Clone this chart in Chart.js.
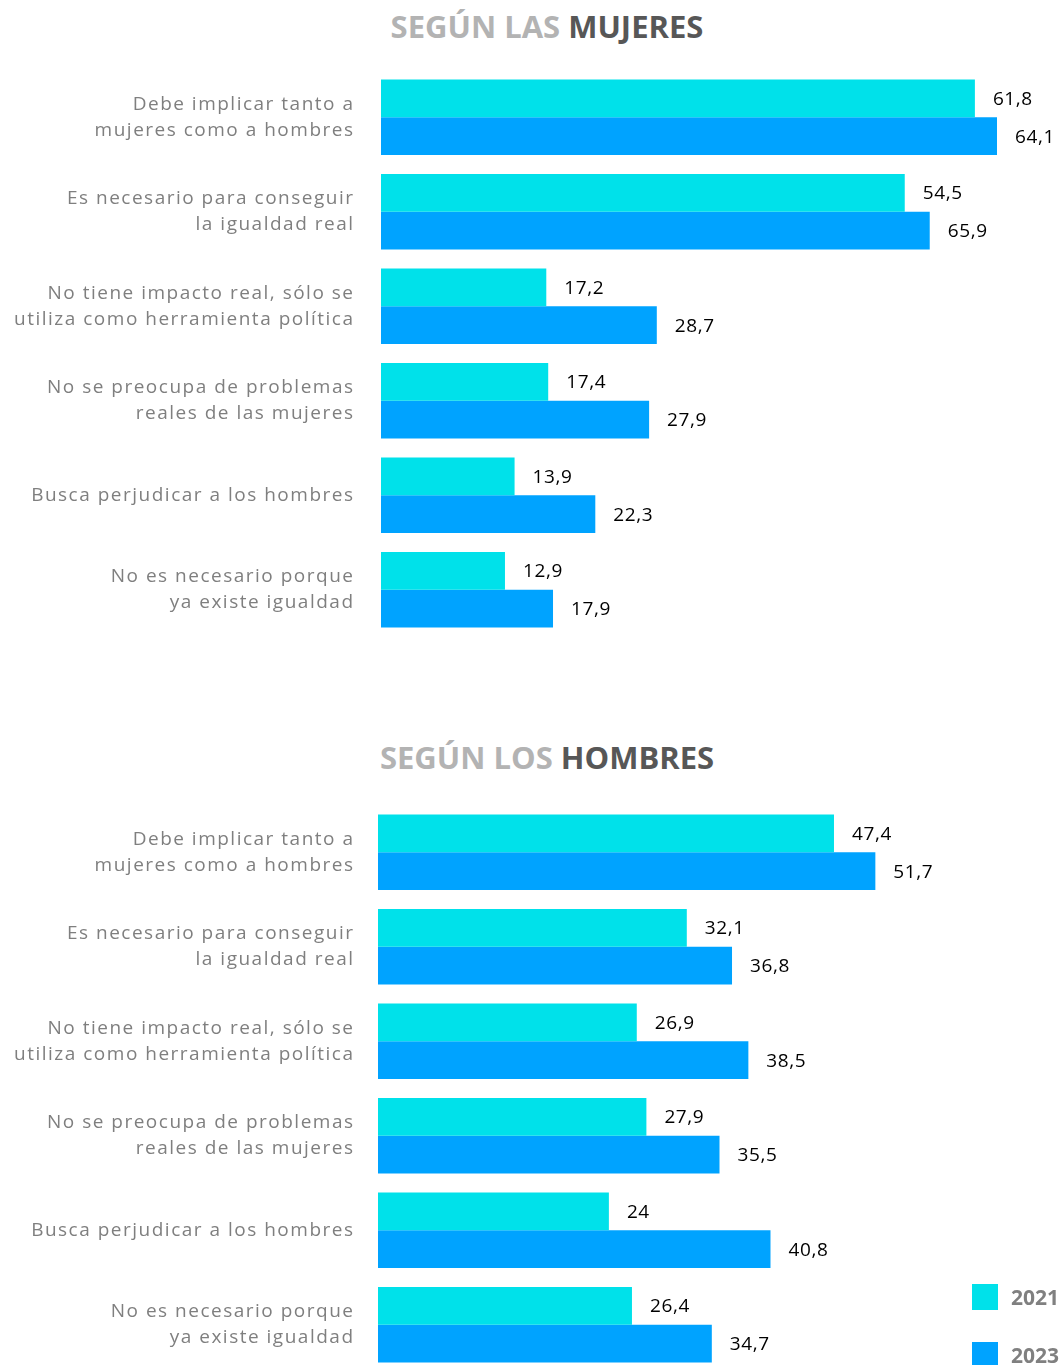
<!DOCTYPE html>
<html><head><meta charset="utf-8">
<script src="https://cdn.jsdelivr.net/npm/chart.js@4/dist/chart.umd.min.js"></script>
<style>
html,body{margin:0;padding:0;background:#fff;width:1064px;height:1365px;overflow:hidden;position:relative;font-family:"Open Sans",sans-serif;}
.title{position:absolute;left:0;width:1094px;text-align:center;font-weight:700;font-size:31px;letter-spacing:0px;font-family:"Open Sans",sans-serif;}
.title .l{color:#b3b3b3}.title .d{color:#575757}
.cw{position:absolute;left:0;width:1064px;}
#legend{position:absolute;left:972px;top:1284px;}
.li{display:flex;align-items:center;height:26px;margin-bottom:32px;}
.sw{width:26px;height:26px;margin-right:13px}
.lt{font-weight:700;font-size:21px;color:#808080;font-family:"Open Sans",sans-serif}
</style></head><body>
<div class="title" style="top:5px"><span class="l">SEGÚN LAS </span><span class="d">MUJERES</span></div>
<div class="cw" style="top:70px;height:567px"><canvas id="c1"></canvas></div>
<div class="title" style="top:736px"><span class="l">SEGÚN LOS </span><span class="d">HOMBRES</span></div>
<div class="cw" style="top:805px;height:567px"><canvas id="c2"></canvas></div>
<div id="legend"></div>
<script>
const categories = [
  ["Debe implicar tanto a","mujeres como a hombres"],
  ["Es necesario para conseguir","la igualdad real"],
  ["No tiene impacto real, sólo se","utiliza como herramienta política"],
  ["No se preocupa de problemas","reales de las mujeres"],
  ["Busca perjudicar a los hombres"],
  ["No es necesario porque","ya existe igualdad"]
];
const seriesNames = ["2021","2023"];
const seriesColors = ["#00e1ea","#00a3ff"];
// bar lengths as drawn in the source picture
const mujeres2021 = [61.8,54.5,17.2,17.4,13.9,12.9];
const mujeres2023 = [64.1,57.1,28.7,27.9,22.3,17.9]; // 2nd bar is drawn at ~57 in the source although labelled 65,9
const hombres2021 = [47.4,32.1,26.9,27.9,24,26.4];
const hombres2023 = [51.7,36.8,38.5,35.5,40.8,34.7];
// value labels as printed in the source picture
const mujeres2021Text = ["61,8","54,5","17,2","17,4","13,9","12,9"];
const mujeres2023Text = ["64,1","65,9","28,7","27,9","22,3","17,9"];
const hombres2021Text = ["47,4","32,1","26,9","27,9","24","26,4"];
const hombres2023Text = ["51,7","36,8","38,5","35,5","40,8","34,7"];

const spacing = {
  id:'spacing',
  beforeInit(chart){ chart.ctx.letterSpacing = '1.5px'; },
  beforeUpdate(chart){ chart.ctx.letterSpacing = '1.5px'; },
  beforeDraw(chart){ chart.ctx.letterSpacing = '1.5px'; }
};
const valueLabels = {
  id:'valueLabels',
  afterDatasetsDraw(chart){
    const ctx = chart.ctx;
    ctx.save();
    ctx.letterSpacing = '0.6px';
    ctx.font = '500 19px "Open Sans", sans-serif';
    ctx.fillStyle = '#000';
    ctx.textBaseline = 'middle';
    ctx.textAlign = 'left';
    chart.data.datasets.forEach((ds,i)=>{
      chart.getDatasetMeta(i).data.forEach((bar,j)=>{
        ctx.fillText(ds.valueText[j], bar.x + 18, bar.y + 1);
      });
    });
    ctx.restore();
  }
};

function make(id, d1, d2, t1, t2, leftW, rightPad, tickPad, maxV){
  return new Chart(document.getElementById(id), {
    type:'bar',
    data:{labels:categories, datasets:[
      {label:seriesNames[0], data:d1, valueText:t1, backgroundColor:seriesColors[0], borderWidth:0},
      {label:seriesNames[1], data:d2, valueText:t2, backgroundColor:seriesColors[1], borderWidth:0}
    ]},
    options:{
      indexAxis:'y', responsive:true, maintainAspectRatio:false, animation:false,
      layout:{padding:{left:0,right:rightPad,top:0,bottom:0}},
      datasets:{bar:{categoryPercentage:0.8, barPercentage:1}},
      plugins:{legend:{display:false}, tooltip:{enabled:false}},
      scales:{
        x:{display:false, min:0, max:maxV},
        y:{
          grid:{display:false, drawTicks:false}, border:{display:false},
          ticks:{color:'#7f7f7f', padding:tickPad, font:{family:'"Open Sans", sans-serif', size:19, weight:'500', lineHeight:1.36}},
          afterFit(s){ s.width = leftW; s.paddingTop = 0; s.paddingBottom = 0; }
        }
      }
    },
    plugins:[spacing, valueLabels]
  });
}
make('c1', mujeres2021, mujeres2023, mujeres2021Text, mujeres2023Text, 381, 10.3, 26.5, 70);
make('c2', hombres2021, hombres2023, hombres2021Text, hombres2023Text, 378, 12.6, 23.5, 70);

const lg = document.getElementById('legend');
seriesNames.forEach((n,i)=>{
  const d=document.createElement('div'); d.className='li';
  d.innerHTML='<div class="sw" style="background:'+seriesColors[i]+'"></div><span class="lt">'+n+'</span>';
  lg.appendChild(d);
});
</script>
</body></html>
